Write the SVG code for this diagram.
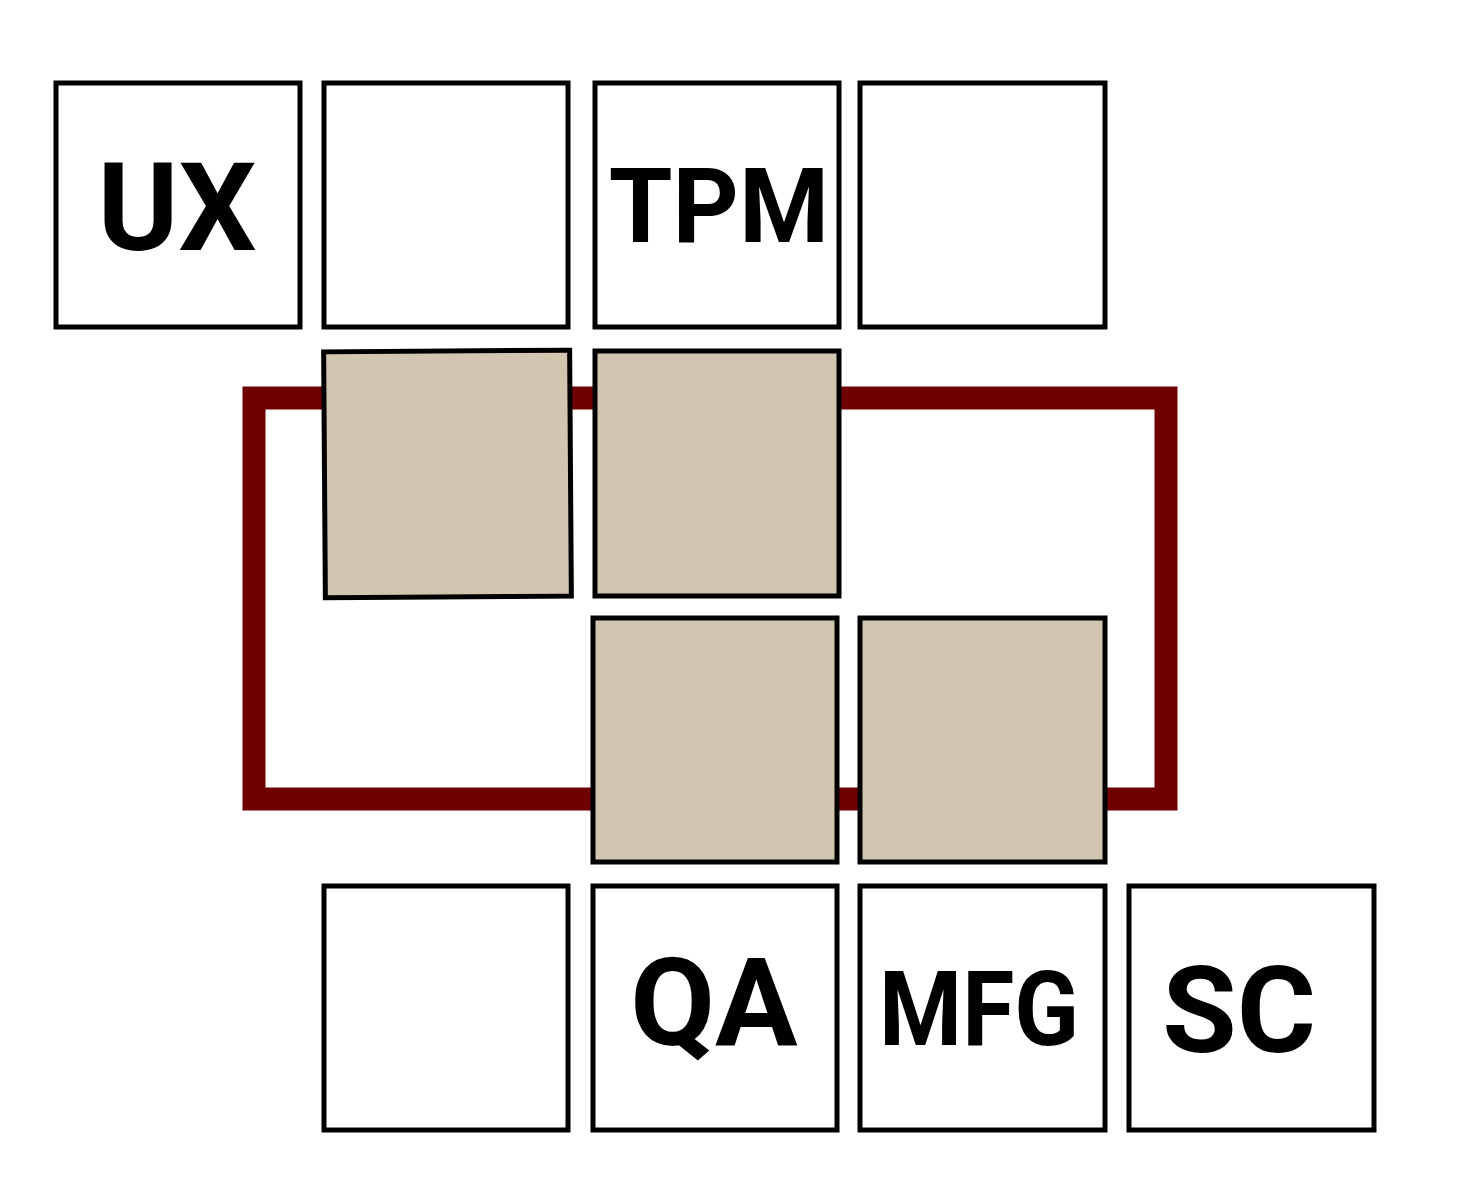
<svg xmlns="http://www.w3.org/2000/svg" width="1460" height="1190" viewBox="0 0 1460 1190">
<style>
.box{fill:#ffffff;stroke:#000000;stroke-width:5}
.tan{fill:#d3c6b0;stroke:#000000;stroke-width:5}
.lbl{font-family:Roboto,"Liberation Sans",sans-serif;font-weight:bold;fill:#000000;text-anchor:middle}
</style>
<rect width="1460" height="1190" fill="#ffffff"/>
<g id="connectors">
<rect x="254" y="398" width="912" height="401" fill="none" stroke="#700000" stroke-width="23"/>
</g>
<g id="n-ux"><rect class="box" x="56" y="83" width="244" height="244"/><text class="lbl" x="177" y="250" font-size="123">UX</text></g>
<g id="n-r1c2"><rect class="box" x="324" y="83" width="244" height="244"/></g>
<g id="n-tpm"><rect class="box" x="595" y="83" width="244" height="244"/><text class="lbl" x="719" y="242" font-size="103">TPM</text></g>
<g id="n-r1c4"><rect class="box" x="860" y="83" width="245" height="244"/></g>
<g id="n-t1"><rect class="tan" x="324.5" y="351" width="246" height="246" transform="rotate(-0.4 447.5 474)"/></g>
<g id="n-t2"><rect class="tan" x="595" y="351" width="244" height="245"/></g>
<g id="n-t3"><rect class="tan" x="593" y="618" width="244" height="244"/></g>
<g id="n-t4"><rect class="tan" x="860" y="618" width="245" height="244"/></g>
<g id="n-r4c1"><rect class="box" x="324" y="886" width="244" height="244"/></g>
<g id="n-qa"><rect class="box" x="593" y="886" width="244" height="244"/><text class="lbl" x="714" y="1045" font-size="123">QA</text></g>
<g id="n-mfg"><rect class="box" x="860" y="886" width="245" height="244"/><text class="lbl" x="979" y="1045" font-size="103" textLength="200" lengthAdjust="spacingAndGlyphs">MFG</text></g>
<g id="n-sc"><rect class="box" x="1129" y="886" width="245" height="244"/><text class="lbl" x="1239" y="1052" font-size="121">SC</text></g>
</svg>
